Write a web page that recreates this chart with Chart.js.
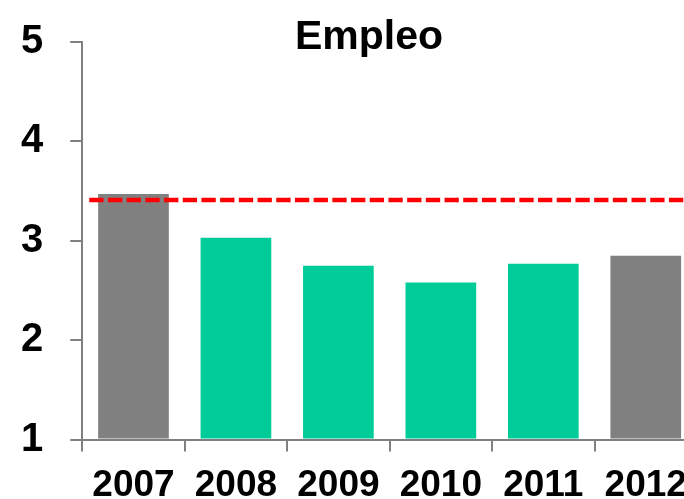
<!DOCTYPE html>
<html>
<head>
<meta charset="utf-8">
<script src="https://cdn.jsdelivr.net/npm/chart.js@4.4.0/dist/chart.umd.min.js"></script>
<style>
    html, body { margin: 0; padding: 0; background: #fff; overflow: hidden; }
    #wrap { width: 684px; height: 499px; overflow: hidden; }
</style>
</head>
<body>
<div id="wrap">
    <canvas id="empleo-chart" width="738" height="520"></canvas>
</div>
<script>
// Datos
const years = ["2007", "2008", "2009", "2010", "2011", "2012"];
const empleo = [3.47, 3.03, 2.75, 2.58, 2.77, 2.85];
const referencia = 3.41;
const yTicks = [1, 2, 3, 4, 5];

const gray = "#808080";
const green = "#00CC99";
const barColors = [gray, green, green, green, green, gray];

// Title drawn inside the plot like the original
const titlePlugin = {
    id: "titleInside",
    afterDraw(chart) {
        const ctx = chart.ctx;
        ctx.save();
        ctx.font = "bold 41px 'Liberation Sans', Arial, sans-serif";
        ctx.fillStyle = "#000";
        ctx.textAlign = "center";
        ctx.textBaseline = "alphabetic";
        ctx.fillText("Empleo", chart.width / 2, 49);
        ctx.restore();
    },
};

// Dashed reference line
const refLine = {
    id: "refLine",
    afterDatasetsDraw(chart) {
        const ctx = chart.ctx;
        const y = chart.scales.y.getPixelForValue(referencia);
        ctx.save();
        ctx.strokeStyle = "#FF0000";
        ctx.lineWidth = 4.5;
        ctx.setLineDash([14.3, 4.4]);
        ctx.beginPath();
        ctx.moveTo(chart.chartArea.left + 7, y);
        ctx.lineTo(chart.chartArea.right, y);
        ctx.stroke();
        ctx.restore();
    },
};

const chart = new Chart(document.getElementById("empleo-chart"), {
    type: "bar",
    data: {
        labels: years,
        datasets: [
            {
                label: "Empleo",
                data: empleo,
                backgroundColor: barColors,
                borderWidth: 0,
                barPercentage: 0.69,
                categoryPercentage: 1,
                base: 1,
            },
        ],
    },
    options: {
        responsive: false,
        animation: false,
        layout: { padding: { left: 21, right: 41, top: 42, bottom: 0 } },
        plugins: {
            legend: { display: false },
            title: { display: false },
            tooltip: { enabled: false },
        },
        scales: {
            x: {
                grid: {
                    offset: true,
                    drawOnChartArea: false,
                    drawTicks: true,
                    tickLength: 12,
                    color: gray,
                    lineWidth: 2,
                },
                border: { display: true, color: gray, width: 2 },
                ticks: {
                    color: "#000",
                    padding: 12,
                    maxRotation: 0,
                    font: { family: "'Liberation Sans', Arial, sans-serif", size: 37, weight: "bold" },
                },
            },
            y: {
                min: 1,
                max: 5,
                afterBuildTicks(axis) {
                    axis.ticks = yTicks.map((v) => ({ value: v }));
                },
                grid: {
                    drawOnChartArea: false,
                    drawTicks: true,
                    tickLength: 12,
                    color: gray,
                    lineWidth: 2,
                },
                border: { display: true, color: gray, width: 2 },
                ticks: {
                    color: "#000",
                    padding: 13.5,
                    crossAlign: "far",
                    font: { family: "'Liberation Sans', Arial, sans-serif", size: 40, weight: "bold" },
                },
            },
        },
    },
    plugins: [refLine, titlePlugin],
});
</script>
</body>
</html>
